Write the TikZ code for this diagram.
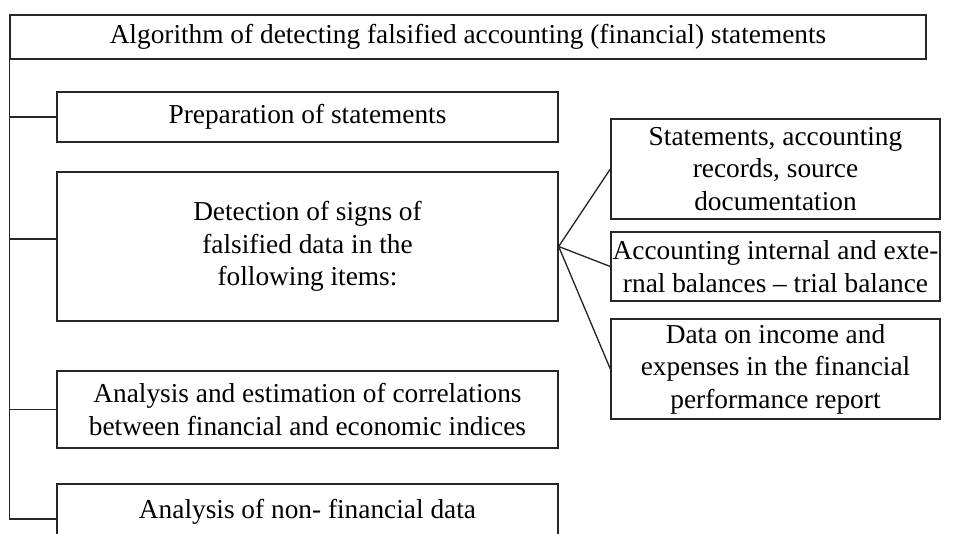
\documentclass[tikz,border=0pt]{standalone}
\usepackage{fontspec}
\setmainfont{Liberation Serif}
\usetikzlibrary{calc}

\begin{document}
\begin{tikzpicture}[x=0.75pt,y=-0.75pt,
    box/.style={draw=black!85,line width=1pt,align=center,inner sep=1pt,
        font=\fontsize{20.5}{24.4}\selectfont},
    link/.style={draw=black!85,line width=1pt}]
    % Canvas of the reference size
    \useasboundingbox (0,0) rectangle (959,533);
    \clip (0,0) rectangle (959,533);

    % Title box
    \node[box,minimum width={916*0.75pt},minimum height={44*0.75pt}] (title) at (468,37)
        {Algorithm of detecting falsified accounting (financial) statements};

    % Stages on the left
    \node[box,minimum width={501*0.75pt},minimum height={50*0.75pt}] (prep) at (307.5,117)
        {Preparation of statements};
    \node[box,minimum width={501*0.75pt},minimum height={149*0.75pt}] (detect) at (307.5,246.5)
        {Detection of signs of\\ falsified data in the\\ following items:};
    \node[box,minimum width={501*0.75pt},minimum height={77*0.75pt}] (corr) at (307.5,409.5)
        {Analysis and estimation of correlations\\ between financial and economic indices};
    \node[box,minimum width={501*0.75pt},minimum height={56*0.75pt}] (nonfin) at (307.5,512)
        {Analysis of non- financial data};

    % Items checked on the right
    \node[box,minimum width={329*0.75pt},minimum height={100*0.75pt}] (records) at (775.5,169)
        {Statements, accounting\\ records, source\\ documentation};
    \node[box,inner xsep=0pt,minimum width={329*0.75pt},minimum height={69*0.75pt}] (balance) at (775.5,266.5)
        {Accounting internal and exte-\\ rnal balances -- trial balance};
    \node[box,minimum width={329*0.75pt},minimum height={100*0.75pt}] (income) at (775.5,369)
        {Data on income and\\ expenses in the financial\\ performance report};

    % Spine and branches
    \coordinate (spineend) at (title.south west |- 0,519);
    \draw[link] (title.south west) -- (spineend) -- (spineend -| nonfin.west);
    \foreach \stage in {prep,corr}
        \draw[link] (title.south west |- \stage.west) -- (\stage.west);
    \draw[link] (title.south west |- 0,239) -- (detect.west |- 0,239);

    % Fan to the checked items
    \foreach \item in {records,balance,income}
        \draw[link] (detect.east) -- (\item.west);
\end{tikzpicture}
\end{document}
